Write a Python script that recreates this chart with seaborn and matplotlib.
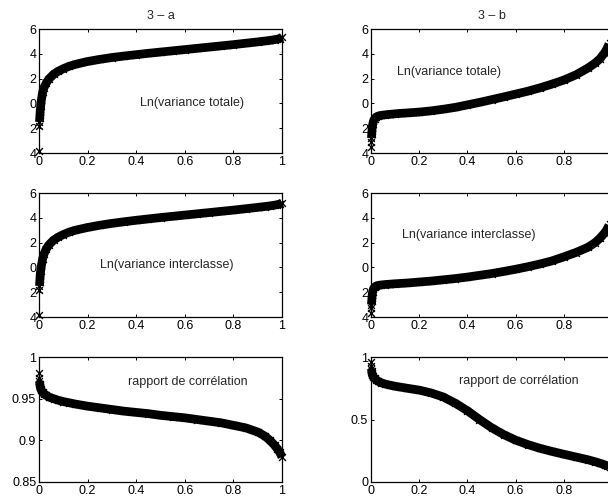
import matplotlib
matplotlib.use("Agg")
import matplotlib.pyplot as plt
import pandas as pd
import seaborn as sns

# common abscissa (fraction of the ordered sample)
x_vals = [0, 0.001, 0.002, 0.003, 0.004, 0.005, 0.007, 0.01, 0.015, 0.02,
          0.03, 0.04, 0.06, 0.08, 0.1, 0.125, 0.15, 0.2, 0.25, 0.3,
          0.35, 0.4, 0.45, 0.5, 0.55, 0.6, 0.65, 0.7, 0.75, 0.8,
          0.85, 0.9, 0.93, 0.95, 0.97, 0.98, 0.99, 1.0]

# 3 - a
ln_total_a = [-3.8, -1.8, -1.5, -1.2, -0.9, -0.6, -0.2, 0.3, 0.9, 1.25,
              1.65, 1.95, 2.35, 2.6, 2.8, 3.0, 3.15, 3.38, 3.55, 3.7,
              3.82, 3.93, 4.04, 4.14, 4.24, 4.34, 4.44, 4.54, 4.64, 4.74,
              4.85, 4.96, 5.03, 5.08, 5.14, 5.18, 5.23, 5.33]
ln_inter_a = [-3.8, -1.85, -1.5, -1.2, -0.9, -0.6, -0.25, 0.15, 0.7, 1.05,
              1.5, 1.8, 2.2, 2.45, 2.65, 2.85, 3.0, 3.22, 3.4, 3.55,
              3.68, 3.8, 3.91, 4.02, 4.12, 4.22, 4.32, 4.42, 4.52, 4.62,
              4.73, 4.84, 4.91, 4.96, 5.02, 5.06, 5.11, 5.2]
ratio_a = [0.981, 0.975, 0.971, 0.968, 0.966, 0.964, 0.962, 0.960, 0.958, 0.956,
           0.954, 0.952, 0.950, 0.948, 0.9465, 0.945, 0.9435, 0.941, 0.939, 0.937,
           0.935, 0.9335, 0.932, 0.930, 0.9285, 0.927, 0.925, 0.923, 0.921, 0.918,
           0.915, 0.910, 0.905, 0.900, 0.894, 0.890, 0.886, 0.880]

# 3 - b
ln_total_b = [-3.5, -3.1, -2.8, -2.5, -2.2, -1.95, -1.7, -1.45, -1.25, -1.12,
              -1.02, -0.97, -0.92, -0.88, -0.84, -0.8, -0.77, -0.7, -0.6, -0.47,
              -0.32, -0.12, 0.08, 0.3, 0.52, 0.75, 0.98, 1.25, 1.55, 1.88,
              2.3, 2.85, 3.25, 3.6, 4.1, 4.45, 4.9, 5.6]
ln_inter_b = [-3.7, -3.3, -3.0, -2.7, -2.45, -2.2, -1.95, -1.75, -1.6, -1.52,
              -1.45, -1.42, -1.38, -1.35, -1.32, -1.29, -1.26, -1.18, -1.1, -1.0,
              -0.9, -0.78, -0.64, -0.5, -0.33, -0.15, 0.05, 0.27, 0.52, 0.85,
              1.2, 1.62, 2.0, 2.35, 2.8, 3.1, 3.5, 4.1]
ratio_b = [0.96, 0.93, 0.905, 0.885, 0.87, 0.86, 0.85, 0.84, 0.83, 0.82,
           0.805, 0.795, 0.783, 0.774, 0.766, 0.758, 0.75, 0.735, 0.712, 0.68,
           0.63, 0.57, 0.5, 0.435, 0.38, 0.335, 0.3, 0.27, 0.245, 0.222,
           0.2, 0.178, 0.162, 0.15, 0.137, 0.13, 0.12, 0.11]

x_ticks = [0, 0.2, 0.4, 0.6, 0.8, 1]
x_ticklabels = ["0", "0.2", "0.4", "0.6", "0.8", "1"]
# the right column is cut at the figure edge, so its "1" is not shown
x_ticklabels_cut = ["0", "0.2", "0.4", "0.6", "0.8", ""]
ln_ticks = [6, 4, 2, 0, -2, -4]
ln_ticklabels = ["6", "4", "2", "0", "2", "4"]
ratio_a_ticks = [0.85, 0.9, 0.95, 1]
ratio_a_ticklabels = ["0.85", "0.9", "0.95", "1"]
ratio_b_ticks = [0, 0.5, 1]
ratio_b_ticklabels = ["0", "0.5", "1"]

label_total = "Ln(variance totale)"
label_inter = "Ln(variance interclasse)"
label_ratio = "rapport de corrélation"

sns.set_style("ticks")
plt.rcParams["font.family"] = ["Liberation Sans", "DejaVu Sans"]
plt.rcParams["font.size"] = 9

fig = plt.figure(figsize=(6.08, 5.0), dpi=100)

W, H = 608.0, 500.0
col_left = [39, 371]
col_width = [243, 241]
row_top = [29, 193, 357]
row_height = [124, 124, 125]

# (column, row, y data, ylim, ticks, ticklabels, text, text x, text y, title)
panels = [
    (0, 0, ln_total_a, (-4, 6), ln_ticks, ln_ticklabels, label_total, 0.415, 0.0, "3 – a"),
    (1, 0, ln_total_b, (-4, 6), ln_ticks, ln_ticklabels, label_total, 0.108, 2.55, "3 – b"),
    (0, 1, ln_inter_a, (-4, 6), ln_ticks, ln_ticklabels, label_inter, 0.25, 0.2, None),
    (1, 1, ln_inter_b, (-4, 6), ln_ticks, ln_ticklabels, label_inter, 0.129, 2.6, None),
    (0, 2, ratio_a, (0.85, 1), ratio_a_ticks, ratio_a_ticklabels, label_ratio, 0.366, 0.970, None),
    (1, 2, ratio_b, (0, 1), ratio_b_ticks, ratio_b_ticklabels, label_ratio, 0.365, 0.81, None),
]

for col, row, yv, ylim, yt, ytl, txt, tx, ty, title in panels:
    left = col_left[col] / W
    bottom = 1 - (row_top[row] + row_height[row]) / H
    ax = fig.add_axes([left, bottom, col_width[col] / W, row_height[row] / H])
    df = pd.DataFrame({"x": x_vals, "y": yv})

    # thick band of overlapping markers
    sns.lineplot(data=df.iloc[2:], x="x", y="y", ax=ax, color="black",
                 linewidth=6.3, solid_capstyle="butt", sort=False,
                 estimator=None, clip_on=False)
    sns.scatterplot(data=df, x="x", y="y", ax=ax, marker="x", color="black",
                    s=24, linewidth=1.0, clip_on=False, zorder=3)

    ax.set_xlim(0, 1)
    ax.set_ylim(*ylim)
    ax.set_xticks(x_ticks)
    ax.set_xticklabels(x_ticklabels if col == 0 else x_ticklabels_cut)
    ax.set_yticks(yt)
    ax.set_yticklabels(ytl)
    ax.set_xlabel("")
    ax.set_ylabel("")
    ax.tick_params(direction="in", length=2.5, width=0.7, top=True, right=True,
                   labelsize=9, pad=2, colors="black")
    for sp in ax.spines.values():
        sp.set_visible(True)
        sp.set_linewidth(0.9)
        sp.set_color("black")
    ax.text(tx, ty, txt, fontsize=9, ha="left", va="center")
    if title:
        ax.set_title(title, fontsize=9, pad=7)

fig.savefig("out.png", dpi=100)
